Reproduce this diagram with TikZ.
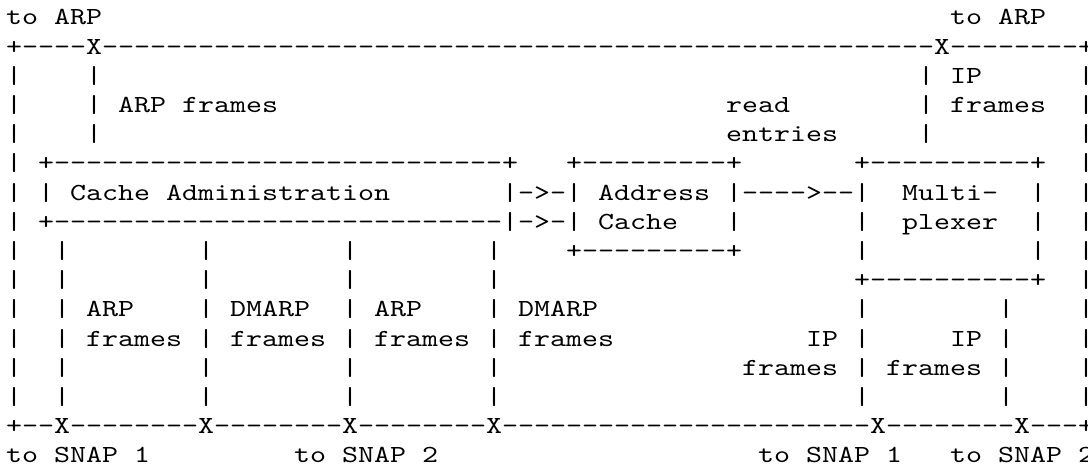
\documentclass[tikz,border=0pt]{standalone}
\usepackage{graphicx}
\usepackage{tikz}

% run of blank columns, n character cells wide
\newcommand\gap[1]{\hspace*{#1\fontcharwd\font`\x}}
% one row of the typewriter drawing, widened to the 16px grid
\newcommand\asciiline[1]{\scalebox{1.5238}[1.2275]{\ttfamily\fontsize{10}{12}\selectfont #1}}

\tikzset{asciirow/.style={anchor=base west,inner sep=0pt}}

\begin{document}
\begin{tikzpicture}[x=0.5pt,y=0.5pt,yscale=-1,xscale=1]
\useasboundingbox (0,0) rectangle (1088,470);

% Text Node
\node (row0) [asciirow] at (5.7,25) {\asciiline{to ARP\gap{53}to ARP}};
% Text Node
\node (row1) [asciirow] at (5.7,54.2) {\asciiline{+----X----------------------------------------------------X--------+}};
% Text Node
\node (row2) [asciirow] at (5.7,83.4) {\asciiline{|\gap{4}|\gap{51}| IP\gap{6}|}};
% Text Node
\node (row3) [asciirow] at (5.7,112.6) {\asciiline{|\gap{4}| ARP frames\gap{28}read\gap{8}| frames\gap{2}|}};
% Text Node
\node (row4) [asciirow] at (5.7,141.8) {\asciiline{|\gap{4}|\gap{39}entries\gap{5}|\gap{9}|}};
% Text Node
\node (row5) [asciirow] at (5.7,171) {\asciiline{| +----------------------------+\gap{3}+---------+\gap{7}+----------+\gap{2}|}};
% Text Node
\node (row6) [asciirow] at (5.7,200.2) {\asciiline{| | Cache Administration\gap{7}|->-| Address |---->--|\gap{2}Multi-\gap{2}|\gap{2}|}};
% Text Node
\node (row7) [asciirow] at (5.7,229.4) {\asciiline{| +----------------------------|->-| Cache\gap{3}|\gap{7}|\gap{2}plexer\gap{2}|\gap{2}|}};
% Text Node
\node (row8) [asciirow] at (5.7,258.6) {\asciiline{|\gap{2}|\gap{8}|\gap{8}|\gap{8}|\gap{4}+---------+\gap{7}|\gap{10}|\gap{2}|}};
% Text Node
\node (row9) [asciirow] at (5.7,287.8) {\asciiline{|\gap{2}|\gap{8}|\gap{8}|\gap{8}|\gap{22}+----------+\gap{2}|}};
% Text Node
\node (row10) [asciirow] at (5.7,317) {\asciiline{|\gap{2}| ARP\gap{4}| DMARP\gap{2}| ARP\gap{4}| DMARP\gap{16}|\gap{8}|\gap{4}|}};
% Text Node
\node (row11) [asciirow] at (5.7,346.2) {\asciiline{|\gap{2}| frames | frames | frames | frames\gap{12}IP |\gap{5}IP |\gap{4}|}};
% Text Node
\node (row12) [asciirow] at (5.7,375.4) {\asciiline{|\gap{2}|\gap{8}|\gap{8}|\gap{8}|\gap{15}frames | frames |\gap{4}|}};
% Text Node
\node (row13) [asciirow] at (5.7,404.6) {\asciiline{|\gap{2}|\gap{8}|\gap{8}|\gap{8}|\gap{22}|\gap{8}|\gap{4}|}};
% Text Node
\node (row14) [asciirow] at (5.7,433.8) {\asciiline{+--X--------X--------X--------X-----------------------X--------X---+}};
% Text Node
\node (row15) [asciirow] at (5.7,463) {\asciiline{to SNAP 1\gap{9}to SNAP 2\gap{20}to SNAP 1\gap{3}to SNAP 2}};

\end{tikzpicture}
\end{document}
